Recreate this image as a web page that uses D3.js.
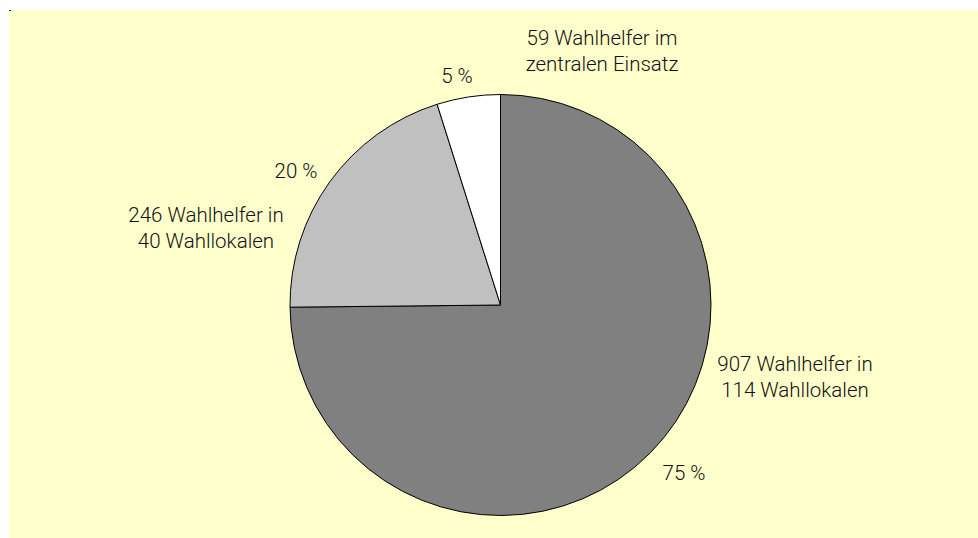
<!DOCTYPE html>
<html>
<head>
<meta charset="utf-8">
<script src="https://cdn.jsdelivr.net/npm/d3@7"></script>
<style>
  html, body { margin: 0; padding: 0; background: #fff; }
  svg text { font-family: Roboto, "Liberation Sans", Arial, sans-serif; font-weight: 300; font-size: 20.5px; fill: #111; }
</style>
</head>
<body>
<div id="chart"></div>
<script>
// data
const categories = ["907 Wahlhelfer in\n114 Wahllokalen", "246 Wahlhelfer in\n40 Wahllokalen", "59 Wahlhelfer im\nzentralen Einsatz"];
const helpers = [907, 246, 59];
const percentLabels = ["75 %", "20 %", "5 %"];
const sliceColors = ["#808080", "#c0c0c0", "#ffffff"];

const width = 978, height = 538;
const cx = 500.5, cy = 305, radius = 210.5;

// label anchors (centre x, first baseline), chosen to match the original layout
const percentPos = [[684, 480], [296, 178], [457, 83]];
const namePos = [[795, 371], [206, 222], [602, 45]];

const svg = d3.select("#chart").append("svg")
    .attr("width", width)
    .attr("height", height);

// pale yellow plot area
svg.append("rect")
    .attr("x", 9).attr("y", 10)
    .attr("width", width - 9).attr("height", height - 10)
    .attr("fill", "#ffffcc");
svg.append("rect")
    .attr("x", 9).attr("y", 10).attr("width", 2).attr("height", 1)
    .attr("fill", "#222");

const pie = d3.pie().sort(null).value(d => d);
const arc = d3.arc().innerRadius(0).outerRadius(radius);

const g = svg.append("g")
    .attr("transform", `translate(${cx},${cy})`);

g.selectAll("path")
    .data(pie(helpers))
    .enter()
    .append("path")
    .attr("d", arc)
    .attr("fill", (d, i) => sliceColors[i])
    .attr("stroke", "#000")
    .attr("stroke-width", 1)
    .attr("stroke-linejoin", "round");

// percent labels
svg.selectAll("text.pct")
    .data(percentLabels)
    .enter()
    .append("text")
    .attr("class", "pct")
    .attr("text-anchor", "middle")
    .attr("x", (d, i) => percentPos[i][0])
    .attr("y", (d, i) => percentPos[i][1])
    .text(d => d);

// category labels (two lines each)
const names = svg.selectAll("text.name")
    .data(categories)
    .enter()
    .append("text")
    .attr("class", "name")
    .attr("text-anchor", "middle")
    .attr("y", (d, i) => namePos[i][1]);

names.selectAll("tspan")
    .data((d, i) => d.split("\n").map(line => ({ line, x: namePos[i][0] })))
    .enter()
    .append("tspan")
    .attr("x", d => d.x)
    .attr("dy", (d, j) => j === 0 ? 0 : 26)
    .text(d => d.line);
</script>
</body>
</html>
